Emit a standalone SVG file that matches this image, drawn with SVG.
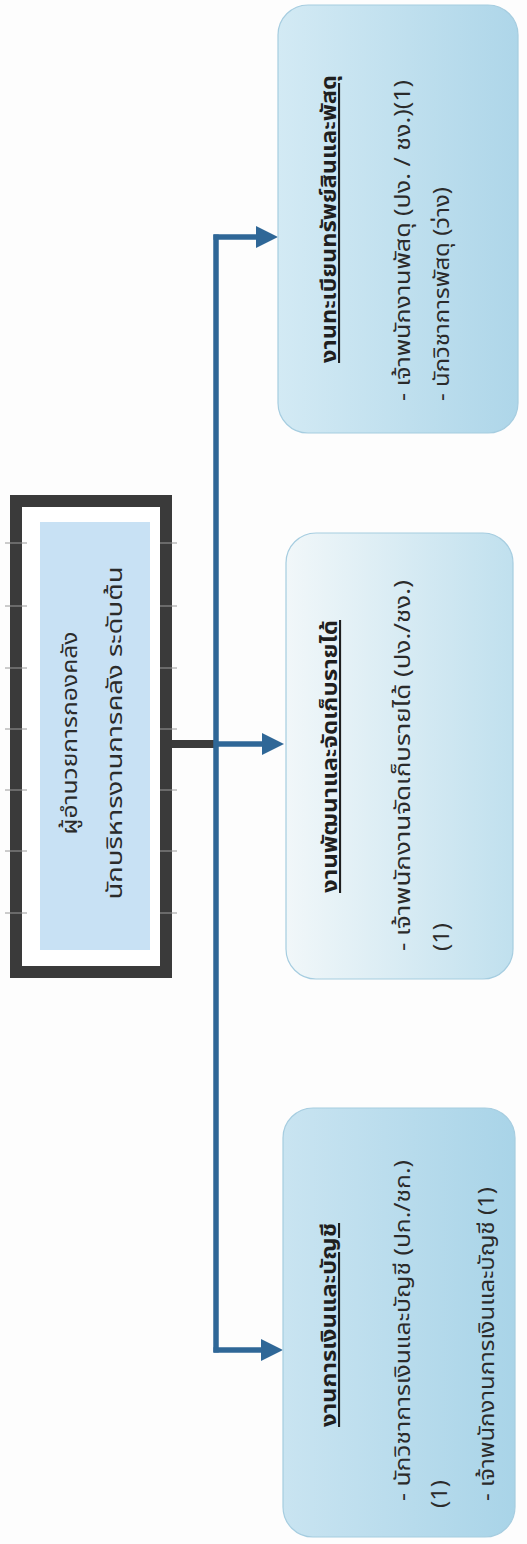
<svg xmlns="http://www.w3.org/2000/svg" width="527" height="1544" viewBox="0 0 527 1544">
  <defs>
    <linearGradient id="gTop" x1="0" y1="0" x2="1" y2="0">
      <stop offset="0" stop-color="#d3eaf4"/>
      <stop offset="1" stop-color="#aed6e9"/>
    </linearGradient>
    <linearGradient id="gMid" x1="0" y1="0" x2="1" y2="0">
      <stop offset="0" stop-color="#f1f7f9"/>
      <stop offset="1" stop-color="#c0e0ee"/>
    </linearGradient>
    <linearGradient id="gBot" x1="0" y1="0" x2="1" y2="0">
      <stop offset="0" stop-color="#c9e4f1"/>
      <stop offset="1" stop-color="#a9d4e8"/>
    </linearGradient>
    <marker id="arr" viewBox="0 0 10 10" refX="0" refY="5" markerUnits="userSpaceOnUse" markerWidth="22" markerHeight="24" orient="auto">
      <path d="M0,0 L10,5 L0,10 z" fill="#2f6797"/>
    </marker>
    <style>
      .box { stroke: #a6cde0; stroke-width: 1.2; }
      .txt { font-family: "Noto Sans Thai", "Noto Sans", "DejaVu Sans", sans-serif; fill: #2b2b2b; font-size: 21px; }
      .ttl { font-weight: bold; text-decoration: underline; font-size: 21px; fill: #1f1f1f; }
      .blue { fill: none; stroke: #2f6797; stroke-width: 5.5; }
      .tick { stroke: #9a9a9a; stroke-width: 1; }
    </style>
  </defs>
  <rect x="0" y="0" width="527" height="1544" fill="#fdfdfd"/>

  <g id="connectors">
    <line x1="170" y1="744" x2="214" y2="744" stroke="#3b3b3b" stroke-width="8"/>
    <path class="blue" d="M216,234.5 V1352.5"/>
    <path class="blue" d="M213.5,237 H256" marker-end="url(#arr)"/>
    <path class="blue" d="M216,744 H262" marker-end="url(#arr)"/>
    <path class="blue" d="M213.5,1350 H261" marker-end="url(#arr)"/>
  </g>

  <g id="node-head">
    <rect x="16" y="501" width="150" height="471" fill="#ffffff" stroke="#3a3a3a" stroke-width="12"/>
    <rect x="40" y="522" width="110" height="428" fill="#c8e1f4"/>
    <g class="tick">
      <line x1="5" y1="543" x2="27" y2="543"/><line x1="160" y1="543" x2="177" y2="543"/>
      <line x1="5" y1="606" x2="27" y2="606"/><line x1="160" y1="606" x2="177" y2="606"/>
      <line x1="5" y1="668" x2="27" y2="668"/><line x1="160" y1="668" x2="177" y2="668"/>
      <line x1="5" y1="729" x2="27" y2="729"/><line x1="160" y1="729" x2="177" y2="729"/>
      <line x1="5" y1="790" x2="27" y2="790"/><line x1="160" y1="790" x2="177" y2="790"/>
      <line x1="5" y1="851" x2="27" y2="851"/><line x1="160" y1="851" x2="177" y2="851"/>
      <line x1="5" y1="913" x2="27" y2="913"/><line x1="160" y1="913" x2="177" y2="913"/>
    </g>
    <text class="txt" transform="translate(77,733) rotate(-90)" text-anchor="middle" textLength="203" lengthAdjust="spacingAndGlyphs">ผู้อำนวยการกองคลัง</text>
    <text class="txt" transform="translate(122,733) rotate(-90)" text-anchor="middle" textLength="333" lengthAdjust="spacingAndGlyphs">นักบริหารงานการคลัง ระดับต้น</text>
  </g>

  <g id="node-assets">
    <rect class="box" x="278" y="5" width="240" height="428" rx="30" fill="url(#gTop)"/>
    <text class="txt ttl" transform="translate(336,363) rotate(-90)" textLength="288" lengthAdjust="spacingAndGlyphs">งานทะเบียนทรัพย์สินและพัสดุ</text>
    <text class="txt" transform="translate(410,401) rotate(-90)" textLength="321" lengthAdjust="spacingAndGlyphs">- เจ้าพนักงานพัสดุ (ปง. / ชง.)(1)</text>
    <text class="txt" transform="translate(449,401) rotate(-90)" textLength="214" lengthAdjust="spacingAndGlyphs">- นักวิชาการพัสดุ (ว่าง)</text>
  </g>

  <g id="node-revenue">
    <rect class="box" x="286" y="533" width="227" height="446" rx="30" fill="url(#gMid)"/>
    <text class="txt ttl" transform="translate(337,893) rotate(-90)" textLength="273" lengthAdjust="spacingAndGlyphs">งานพัฒนาและจัดเก็บรายได้</text>
    <text class="txt" transform="translate(410,951) rotate(-90)" textLength="371" lengthAdjust="spacingAndGlyphs">- เจ้าพนักงานจัดเก็บรายได้  (ปง./ชง.)</text>
    <text class="txt" transform="translate(449,951) rotate(-90)" textLength="28" lengthAdjust="spacingAndGlyphs">(1)</text>
  </g>

  <g id="node-finance">
    <rect class="box" x="283" y="1108" width="232" height="429" rx="30" fill="url(#gBot)"/>
    <text class="txt ttl" transform="translate(336,1427) rotate(-90)" textLength="204" lengthAdjust="spacingAndGlyphs">งานการเงินและบัญชี</text>
    <text class="txt" transform="translate(410,1501) rotate(-90)" textLength="341" lengthAdjust="spacingAndGlyphs">- นักวิชาการเงินและบัญชี (ปก./ชก.)</text>
    <text class="txt" transform="translate(447,1508) rotate(-90)" textLength="28" lengthAdjust="spacingAndGlyphs">(1)</text>
    <text class="txt" transform="translate(494,1501) rotate(-90)" textLength="314" lengthAdjust="spacingAndGlyphs">- เจ้าพนักงานการเงินและบัญชี (1)</text>
  </g>
</svg>
